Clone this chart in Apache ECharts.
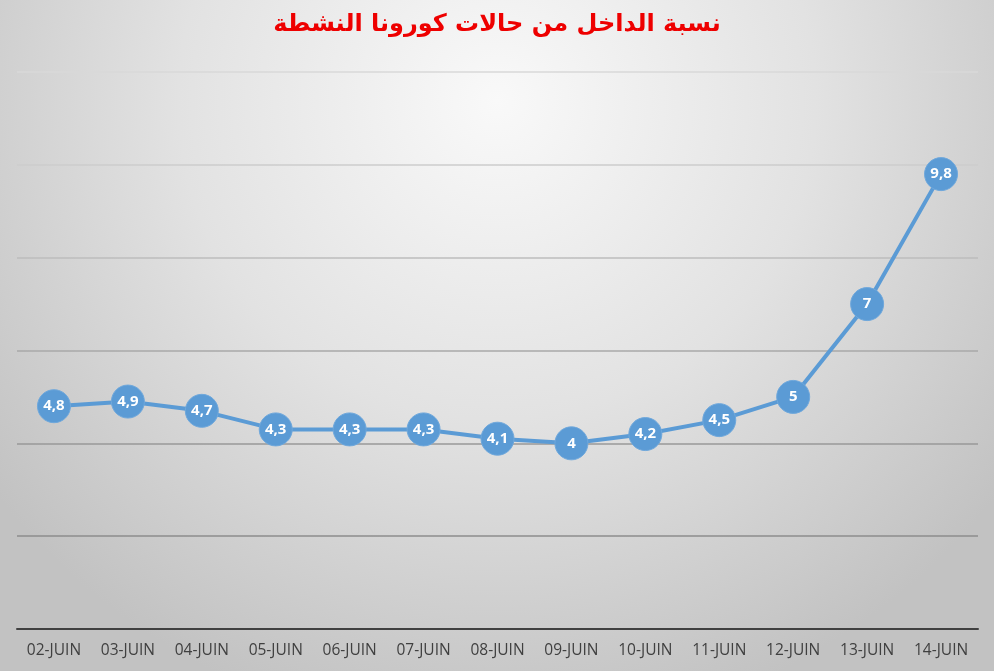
<!DOCTYPE html>
<html><head><meta charset="utf-8">
<script src="https://cdn.jsdelivr.net/npm/echarts@6/dist/echarts.min.js"></script>
<style>html,body{margin:0;padding:0;}#c{width:994px;height:671px;}</style>
</head><body><div id="c"></div>
<script>
const titleText = 'نسبة الداخل من حالات كورونا النشطة';
const categories = ['02-JUIN','03-JUIN','04-JUIN','05-JUIN','06-JUIN','07-JUIN','08-JUIN','09-JUIN','10-JUIN','11-JUIN','12-JUIN','13-JUIN','14-JUIN'];
const values = [4.8,4.9,4.7,4.3,4.3,4.3,4.1,4,4.2,4.5,5,7,9.8];

const chart = echarts.init(document.getElementById('c'));
chart.setOption({
  backgroundColor: {
    type: 'radial', x: 0.5, y: 0.15, r: 0.95,
    colorStops: [
      {offset: 0, color: '#f9f9f9'},
      {offset: 0.5, color: '#e2e2e2'},
      {offset: 1, color: '#c2c2c2'}
    ]
  },
  title: {
    text: titleText, left: 'center', top: 8,
    textStyle: {color: '#ee0000', fontSize: 24, fontWeight: 'bold', fontFamily: 'DejaVu Sans'}
  },
  grid: {left: 17, right: 16, top: 72, bottom: 42},
  xAxis: {
    type: 'category', data: categories, boundaryGap: true,
    axisLine: {lineStyle: {color: '#404040', width: 2}},
    axisTick: {show: false},
    axisLabel: {color: '#404040', fontSize: 15.5, fontFamily: 'Open Sans', margin: 14}
  },
  yAxis: {
    type: 'value', min: 0, max: 12, interval: 2,
    axisLabel: {show: false}, axisLine: {show: false}, axisTick: {show: false},
    splitLine: {lineStyle: {color: ['#404040','#8c8c8c','#999999','#a8a8a8','#bdbdbd','#cccccc','#d9d9d9'], width: 1.5}}
  },
  series: [{
    type: 'line', data: values,
    lineStyle: {color: '#5b9bd5', width: 4},
    symbol: 'circle', symbolSize: 33,
    itemStyle: {color: '#5b9bd5', borderColor: '#6fa8dc', borderWidth: 1},
    label: {
      show: true, position: 'inside', color: '#ffffff', fontWeight: 'bold', fontSize: 15,
      fontFamily: 'Open Sans',
      formatter: p => String(p.value).replace('.', ',')
    },
    animation: false
  }],
  animation: false
});
</script></body></html>
